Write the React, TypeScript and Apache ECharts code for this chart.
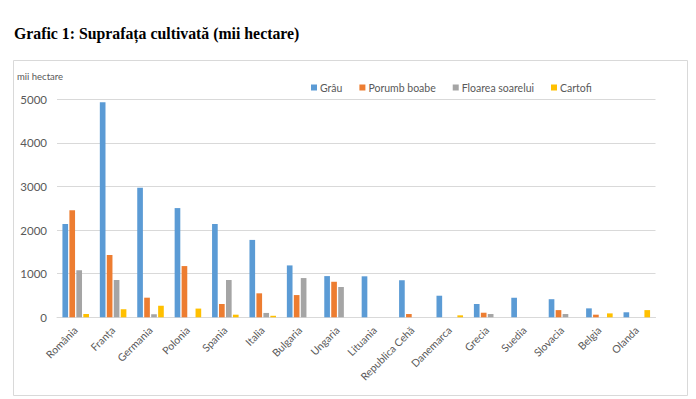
import React, { useEffect, useRef } from "react";
import * as echarts from "echarts";

const categories = [
  "România", "Franța", "Germania", "Polonia", "Spania", "Italia", "Bulgaria", "Ungaria",
  "Lituania", "Republica Cehă", "Danemarca", "Grecia", "Suedia", "Slovacia", "Belgia", "Olanda",
];
const grau = [2140, 4930, 2970, 2505, 2140, 1775, 1190, 945, 940, 850, 495, 305, 450, 415, 205, 115];
const porumb = [2455, 1430, 450, 1175, 305, 550, 510, 815, 0, 75, 0, 105, 0, 165, 60, 0];
const floarea = [1080, 855, 70, 0, 855, 100, 900, 695, 0, 0, 0, 75, 0, 75, 0, 0];
const cartofi = [75, 185, 265, 200, 60, 35, 0, 0, 0, 0, 45, 0, 0, 0, 90, 165];
const yTicks = { min: 0, max: 5000, interval: 1000 };

const FONT = "Lato, 'Open Sans', sans-serif";
const GREY = "#595959";

export default function App() {
  const ref = useRef<HTMLDivElement>(null);
  useEffect(() => {
    if (!ref.current) return;
    const chart = echarts.init(ref.current, undefined, { renderer: "svg" });
    const mk = (name: string, data: number[], color: string) => ({
      name,
      type: "bar",
      data,
      itemStyle: { color },
      barGap: "23%",
      barCategoryGap: "29%",
    });
    chart.setOption({
      animation: false,
      backgroundColor: "#ffffff",
      title: {
        text: "Grafic 1: Suprafața cultivată (mii hectare)",
        left: 14,
        top: 25,
        padding: 0,
        textStyle: {
          fontFamily: "'Liberation Serif', serif",
          fontWeight: "bold",
          fontSize: 15.8,
          color: "#000",
        },
      },
      graphic: [
        {
          type: "rect",
          shape: { x: 13.5, y: 60.5, width: 674, height: 335 },
          style: { fill: "#ffffff", stroke: "#d9d9d9", lineWidth: 1 },
          z: -10,
        },
        {
          type: "text",
          x: 17,
          y: 71,
          style: { text: "mii hectare", fontSize: 9.5, fontFamily: FONT, fill: GREY },
        },
      ],
      legend: {
        top: 77,
        left: 306,
        itemWidth: 6,
        itemHeight: 6,
        itemGap: 17,
        icon: "rect",
        textStyle: { fontSize: 10.5, fontFamily: FONT, color: GREY, padding: [0, 0, 0, -2] },
      },
      grid: { left: 57, right: 40.5, top: 99.3, bottom: 81.7, containLabel: false },
      xAxis: {
        type: "category",
        data: categories,
        axisLine: { lineStyle: { color: "#d9d9d9" } },
        axisTick: { show: false },
        axisLabel: {
          interval: 0,
          rotate: 45,
          fontSize: 10.5,
          fontFamily: FONT,
          color: GREY,
          margin: 11,
        },
      },
      yAxis: {
        type: "value",
        min: yTicks.min,
        max: yTicks.max,
        interval: yTicks.interval,
        axisLine: { show: false },
        axisTick: { show: false },
        splitLine: { lineStyle: { color: "#d9d9d9" } },
        axisLabel: {
          fontSize: 11.5,
          fontFamily: FONT,
          color: GREY,
          margin: 10,
          formatter: (v: number) => String(v),
        },
      },
      series: [
        mk("Grâu", grau, "#5B9BD5"),
        mk("Porumb boabe", porumb, "#ED7D31"),
        mk("Floarea soarelui", floarea, "#A5A5A5"),
        mk("Cartofi", cartofi, "#FFC000"),
      ],
    });
    return () => chart.dispose();
  }, []);
  return (
    <div
      ref={ref}
      style={{ position: "fixed", left: 0, top: 0, width: 696, height: 399 }}
    />
  );
}
